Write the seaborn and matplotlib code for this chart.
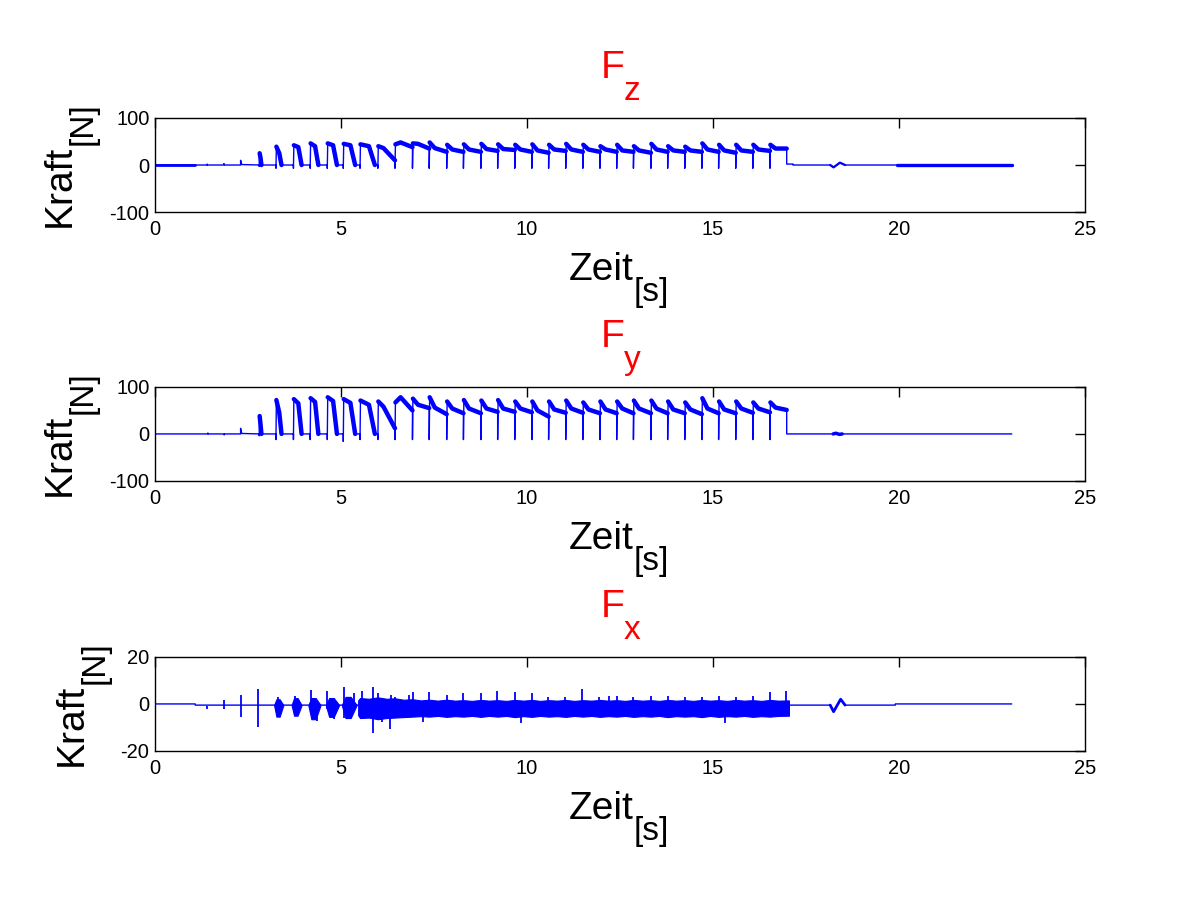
import numpy as np
import pandas as pd
import matplotlib
matplotlib.use("Agg")
import matplotlib.pyplot as plt
import seaborn as sns

# ---------------- data ----------------
# cycle start times [s] (downward dip then rise), final drop time
cycle_t = [2.80, 3.25, 3.72, 4.17, 4.63, 5.06, 5.51, 5.99, 6.45, 6.92, 7.37,
           7.84, 8.29, 8.76, 9.21, 9.67, 10.13, 10.58, 11.04, 11.50, 11.96,
           12.41, 12.86, 13.33, 13.78, 14.24, 14.70, 15.15, 15.61, 16.07, 16.53]
cycle_end = 16.98
signal_end = 23.03
# early pulses fall back to zero after this many seconds (0 = stays on plateau)
pulse_ret = [0.06, 0.15, 0.22, 0.22, 0.26, 0.32, 0.40, 0, 0, 0, 0,
             0, 0, 0, 0, 0, 0, 0, 0, 0, 0,
             0, 0, 0, 0, 0, 0, 0, 0, 0, 0]

# Fz [N]
fz_dip = [-3, -7, -7, -7, -7, -7, -7, -7, -7, -7, -7,
          -7, -7, -7, -7, -7, -7, -7, -7, -7, -7,
          -7, -7, -7, -7, -7, -7, -7, -7, -7, -7]
fz_peak = [25, 39, 42, 46, 46, 45, 44, 40, 44, 46, 48,
           43, 44, 45, 44, 43, 44, 43, 45, 43, 40,
           43, 40, 45, 40, 39, 46, 43, 43, 43, 43]
fz_settle = [15, 25, 38, 40, 42, 42, 40, 36, 48, 45, 36,
             33, 33, 34, 34, 33, 31, 33, 33, 33, 33,
             31, 31, 33, 31, 31, 33, 31, 31, 33, 35]
fz_end = [0, 0, 0, 0, 0, 0, 0, 10, 38, 35, 28,
          28, 28, 30, 32, 28, 26, 30, 28, 28, 28,
          28, 26, 28, 28, 28, 28, 26, 28, 30, 35]
fz_pre_t = [0.0, 1.08, 1.40, 1.40, 1.41, 1.85, 1.85, 1.87, 2.30, 2.30, 2.33, 2.80]
fz_pre_v = [0.0, 0.0, 0.0, 2.0, 0.0, 0.0, 3.0, 0.0, 0.0, 10.0, 1.0, 0.0]
fz_post_t = [16.98, 17.15, 17.15, 18.15, 18.24, 18.41, 18.55, 19.94, signal_end]
fz_post_v = [2.0, 2.0, 0.0, 0.0, -5.0, 5.0, 0.0, 0.0, 0.0]

# Fy [N]
fy_dip = [-4, -12, -12, -12, -12, -16, -12, -12, -12, -12, -12,
          -12, -12, -12, -12, -12, -12, -12, -12, -12, -12,
          -12, -12, -12, -12, -12, -12, -12, -12, -12, -12]
fy_peak = [38, 72, 74, 76, 78, 74, 71, 69, 67, 75, 78,
           69, 72, 71, 72, 69, 69, 69, 71, 67, 69,
           69, 71, 71, 69, 67, 76, 69, 69, 67, 67]
fy_settle = [20, 45, 65, 68, 70, 66, 62, 58, 78, 62, 56,
             54, 54, 54, 54, 54, 50, 52, 54, 52, 52,
             54, 54, 54, 52, 52, 54, 52, 54, 54, 56]
fy_end = [0, 0, 0, 0, 0, 0, 0, 12, 50, 55, 42,
          44, 44, 47, 47, 46, 37, 45, 45, 44, 44,
          44, 44, 44, 44, 42, 44, 44, 45, 46, 51]
fy_pre_t = [0.0, 1.42, 1.42, 1.43, 1.86, 1.86, 1.87, 2.30, 2.30, 2.33, 2.80]
fy_pre_v = [0.0, 0.0, 2.0, 0.0, 0.0, -2.0, 0.0, 0.0, 12.0, 1.0, 0.0]
fy_post_t = [16.98, 18.23, 18.30, 18.40, 18.47, signal_end]
fy_post_v = [0.0, 0.0, 1.5, -1.0, 0.0, 0.0]

# Fx [N]: quiet base line
fx_base_t = [0.0, 1.08, 1.08, 18.15, 18.24, 18.43, 18.55, 19.90, 19.90, signal_end]
fx_base_v = [0.0, 0.0, -0.5, -0.5, -3.3, 2.0, -0.5, -0.5, 0.0, 0.0]
# early bursts: start, end, upper, lower
fx_burst_start = [3.20, 3.67, 4.12, 4.59, 5.02]
fx_burst_stop = [3.45, 3.94, 4.45, 4.95, 5.42]
fx_burst_hi = [2.0, 2.5, 2.5, 2.5, 3.0]
fx_burst_lo = [-5.4, -5.0, -6.5, -5.5, -6.0]
# continuous noise band envelope
fx_band_t = [5.46, 5.51, 5.75, 5.99, 6.22, 6.45, 6.68, 6.92, 7.15, 7.37, 7.60,
             7.84, 8.06, 8.29, 8.52, 8.76, 8.98, 9.21, 9.44, 9.67, 9.90,
             10.13, 10.35, 10.58, 10.81, 11.04, 11.27, 11.50, 11.73, 11.96, 12.18,
             12.41, 12.64, 12.86, 13.10, 13.33, 13.55, 13.78, 14.01, 14.24, 14.47,
             14.70, 14.92, 15.15, 15.38, 15.61, 15.84, 16.07, 16.30, 16.53, 16.75, 17.04]
fx_band_hi = [1.5, 2.5, 2.2, 2.8, 2.2, 2.4, 1.8, 2.0, 1.5, 1.8, 1.4,
              1.8, 1.4, 1.6, 1.3, 1.7, 1.4, 1.6, 1.3, 1.7, 1.4,
              1.7, 1.3, 1.6, 1.4, 1.7, 1.3, 1.6, 1.4, 1.7, 1.4,
              1.6, 1.3, 1.7, 1.4, 1.6, 1.3, 1.7, 1.4, 1.6, 1.3,
              1.7, 1.4, 1.6, 1.3, 1.7, 1.4, 1.6, 1.3, 1.7, 1.4, 1.5]
fx_band_lo = [-4.8, -6.0, -5.8, -6.5, -6.0, -5.8, -5.6, -5.4, -5.2, -5.4, -5.1,
              -5.5, -5.2, -5.4, -5.1, -5.5, -5.1, -5.4, -5.1, -5.6, -5.2,
              -5.5, -5.1, -5.4, -5.2, -5.5, -5.1, -5.4, -5.1, -5.5, -5.2,
              -5.4, -5.1, -5.5, -5.2, -5.4, -5.1, -5.6, -5.2, -5.4, -5.2,
              -5.6, -5.1, -5.5, -5.2, -5.4, -5.1, -5.5, -5.2, -5.4, -5.1, -5.0]
# isolated spikes
fx_spike_t = [1.40, 1.86, 2.30, 2.30, 2.78, 2.78, 3.30, 3.75, 4.19, 4.36, 4.61,
              4.80, 5.08, 5.08, 5.36, 5.56, 5.85, 5.85, 6.00, 6.10, 6.32, 6.34,
              6.45, 6.84, 6.93, 7.20, 7.37, 7.84, 8.29, 8.75, 9.20, 9.68, 9.84,
              10.13, 10.57, 11.02, 11.49, 11.94, 12.19, 12.41, 12.86, 13.33,
              13.78, 14.24, 14.70, 15.15, 15.32, 15.61, 16.07, 16.53, 16.96]
fx_spike_v = [-0.9, 1.5, 3.8, -5.4, 6.2, -9.6, 3.0, 3.2, 6.0, -7.4, 5.3,
              -6.5, 7.4, -6.0, 4.5, 5.4, 7.4, -12.2, 4.5, -7.5, -10.8, 3.8,
              3.0, 4.0, 5.0, -7.5, 5.0, 4.0, 4.5, 4.5, 5.5, 5.0, -8.0,
              4.5, 3.0, 3.0, 6.2, 3.0, 3.3, 3.5, 3.0, 3.5,
              3.2, 3.0, 3.0, 3.5, -8.0, 3.0, 3.2, 5.0, 5.5]

# ---------------- style ----------------
sns.set_style("white")
plt.rcParams['font.family'] = ['Liberation Sans', 'DejaVu Sans']
plt.rcParams['axes.unicode_minus'] = False
plt.rcParams['text.color'] = 'black'

BLUE = (0, 0, 1)
RED = (1, 0, 0)
W, H = 1200.0, 900.0


def build_trace(pre_t, pre_v, dip, peak, settle, end, post_t, post_v):
    t = list(pre_t)
    v = list(pre_v)
    active = []
    n = len(cycle_t)
    for i in range(n):
        t0 = cycle_t[i]
        t1 = cycle_t[i + 1] if i + 1 < n else cycle_end
        prev = v[-1]
        t += [t0, t0, t0 + 0.012]
        v += [prev, dip[i], peak[i]]
        if pulse_ret[i] > 0:
            seg_t = [t0 + 0.012, t0 + pulse_ret[i] * 0.6, t0 + pulse_ret[i]]
            seg_v = [peak[i], settle[i], 0.0]
            t += seg_t[1:] + [t1]
            v += seg_v[1:] + [0.0]
        else:
            seg_t = [t0 + 0.012, t0 + 0.15, t1]
            seg_v = [peak[i], settle[i], end[i]]
            t += seg_t[1:]
            v += seg_v[1:]
        active.append((seg_t, seg_v))
    t += [cycle_end] + list(post_t)
    v += [v[-1]] + list(post_v)
    return t, v, active


fig = plt.figure(figsize=(12, 9), dpi=100)
positions = [[0.1292, 0.7644, 0.775, 0.1045],
             [0.1292, 0.4656, 0.775, 0.1045],
             [0.1292, 0.1656, 0.775, 0.1045]]
axes = [fig.add_axes(p) for p in positions]

traces = [
    build_trace(fz_pre_t, fz_pre_v, fz_dip, fz_peak, fz_settle, fz_end, fz_post_t, fz_post_v),
    build_trace(fy_pre_t, fy_pre_v, fy_dip, fy_peak, fy_settle, fy_end, fy_post_t, fy_post_v),
]

for ax, (t, v, active) in zip(axes[:2], traces):
    sns.lineplot(x=t, y=v, sort=False, estimator=None, ax=ax, color=BLUE, linewidth=1.0)
    for st, sv in active:
        sns.lineplot(x=st, y=sv, sort=False, estimator=None, ax=ax, color=BLUE, linewidth=3.2)

# thicker noisy quiet stretches
sns.lineplot(x=[0.0, 1.08], y=[0.0, 0.0], ax=axes[0], color=BLUE, linewidth=2.0)
sns.lineplot(x=[19.94, signal_end], y=[0.0, 0.0], ax=axes[0], color=BLUE, linewidth=2.4)
sns.lineplot(x=[18.15, 18.24, 18.41, 18.55], y=[0.0, -5.0, 5.0, 0.0], sort=False,
             estimator=None, ax=axes[0], color=BLUE, linewidth=1.6)
sns.lineplot(x=[18.23, 18.30, 18.40, 18.47], y=[0.0, 1.5, -1.0, 0.0], sort=False,
             estimator=None, ax=axes[1], color=BLUE, linewidth=2.5)

# Fx
ax3 = axes[2]
sns.lineplot(x=fx_base_t, y=fx_base_v, sort=False, estimator=None, ax=ax3, color=BLUE, linewidth=1.0)
sns.lineplot(x=[18.15, 18.24, 18.43, 18.55], y=[-0.5, -3.3, 2.0, -0.5], sort=False,
             estimator=None, ax=ax3, color=BLUE, linewidth=2.0)
for s, e, hi, lo in zip(fx_burst_start, fx_burst_stop, fx_burst_hi, fx_burst_lo):
    d = e - s
    bt = [s, s + 0.25 * d, s + 0.6 * d, e]
    ax3.fill_between(bt, [-0.5, hi, hi, -0.5], [-0.5, lo, lo, -0.5],
                     color=BLUE, linewidth=0.8, edgecolor=BLUE)
ax3.fill_between(fx_band_t, fx_band_hi, fx_band_lo, color=BLUE, linewidth=0.8, edgecolor=BLUE)
ax3.vlines(fx_spike_t, -2.0, fx_spike_v, color=BLUE, linewidth=1.3)

ylims = [(-100, 100), (-100, 100), (-20, 20)]
yticks = [[-100, 0, 100], [-100, 0, 100], [-20, 0, 20]]

for ax, yl, yt in zip(axes, ylims, yticks):
    ax.set_xlim(0, 25)
    ax.set_ylim(*yl)
    ax.set_xticks([0, 5, 10, 15, 20, 25])
    ax.set_yticks(yt)
    ax.tick_params(direction='in', length=7, width=1, top=True, right=True,
                   labelsize=14.5, colors='black', pad=6)
    ax.tick_params(axis='y', pad=4)
    for sp in ax.spines.values():
        sp.set_visible(True)
        sp.set_color('black')
        sp.set_linewidth(1.0)
    ax.set_xlabel('')
    ax.set_ylabel('')
    ax.set_facecolor('white')


def fx_(px):
    return px / W


def fy_(py):
    return 1.0 - py / H


# titles, x labels and y labels with low-set subscripts (MATLAB style)
title_main = ['F', 'F', 'F']
title_sub = ['z', 'y', 'x']
panel_shift = [0, 269, 539]
ylabel_base_x = [70, 70, 82]
for k in range(3):
    dy = panel_shift[k]
    fig.text(fx_(624), fy_(78 + dy), title_main[k], color=RED, fontsize=28,
             ha='right', va='baseline')
    fig.text(fx_(624), fy_(100 + dy), title_sub[k], color=RED, fontsize=24,
             ha='left', va='baseline')
    fig.text(fx_(634), fy_(280 + dy), 'Zeit', color='black', fontsize=28,
             ha='right', va='baseline')
    fig.text(fx_(634), fy_(301 + dy), '[s]', color='black', fontsize=24,
             ha='left', va='baseline')
    bx = ylabel_base_x[k]
    jy = 145 + dy
    fig.text(fx_(bx), fy_(jy), 'Kraft', color='black', fontsize=28, rotation=90,
             rotation_mode='anchor', ha='right', va='baseline')
    fig.text(fx_(bx + 22), fy_(jy), '[N]', color='black', fontsize=24, rotation=90,
             rotation_mode='anchor', ha='left', va='baseline')

fig.savefig('out.png', dpi=100, facecolor='white')
